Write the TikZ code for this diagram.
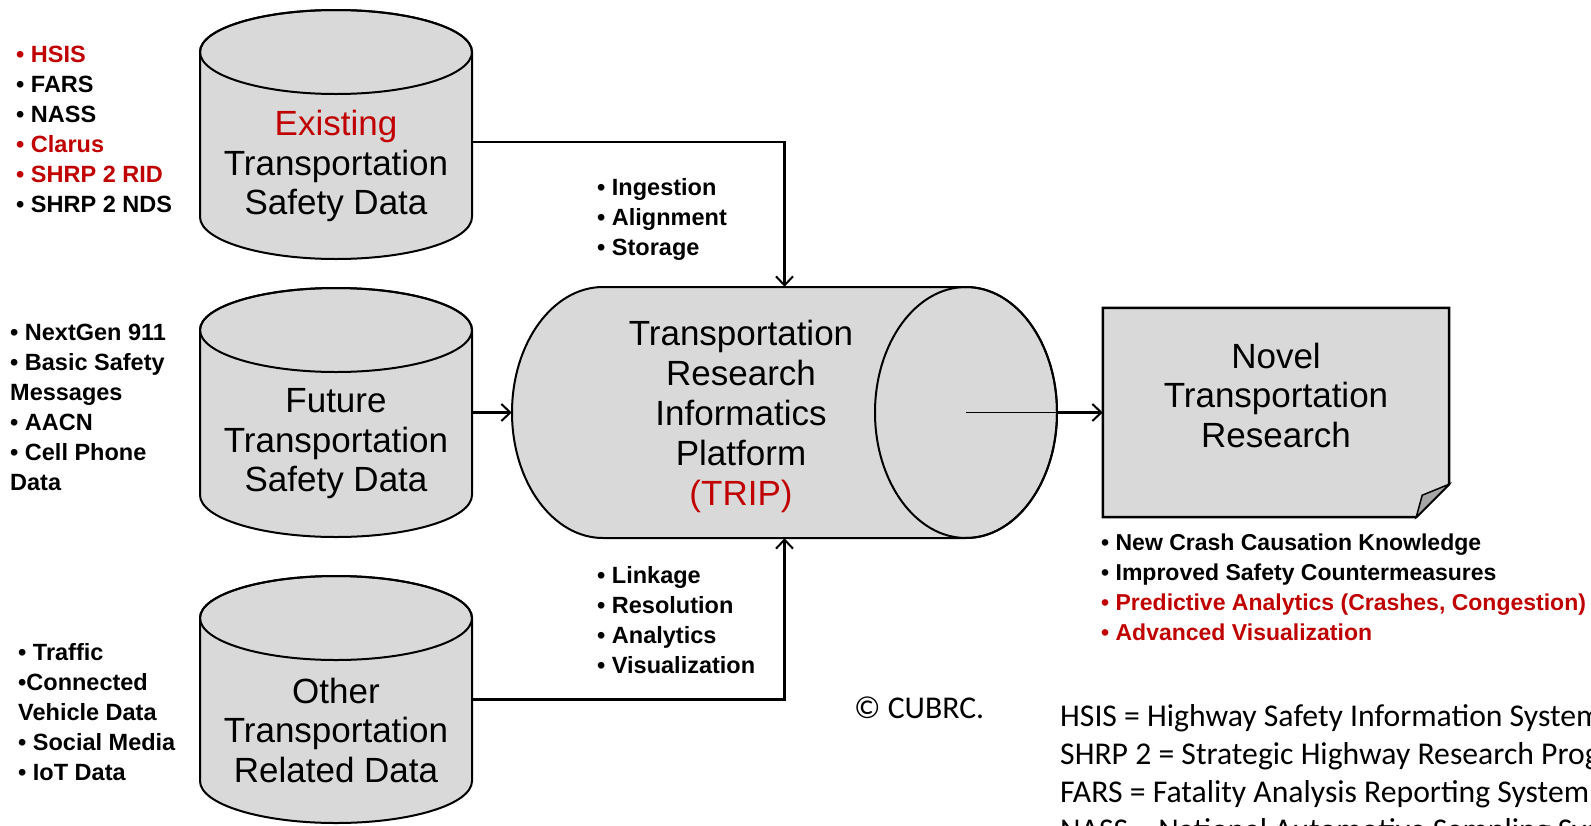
\documentclass[tikz,border=0pt]{standalone}
\usepackage{fontspec}
\setmainfont{Liberation Sans}
\newfontfamily\calib{Carlito}
\usetikzlibrary{arrows.meta,calc}
\definecolor{dred}{HTML}{C00000}
\definecolor{cylgray}{HTML}{D9D9D9}
\definecolor{foldgray}{HTML}{A6A6A6}
\newcommand\vcyl[3]{%
  \path[shapeline] ({#1-136},#2) -- ({#1-136},#3) arc[start angle=180,end angle=0,x radius=136,y radius=42] -- ({#1+136},#2) arc[start angle=0,end angle=-180,x radius=136,y radius=42] -- cycle;
  \draw[line width=2pt] (#1,#2) ellipse[x radius=136, y radius=42];
}
\begin{document}
\begin{tikzpicture}[x=1pt,y=-1pt,
  shapeline/.style={draw=black, line width=2pt, fill=cylgray},
  conn/.style={line width=2.6pt, -{Straight Barb[length=9pt,width=17pt,line width=2pt]}},
  bigtxt/.style={font=\fontsize{35}{39.5}\selectfont, align=center, inner sep=0pt},
  lst/.style={font=\fontsize{23.5}{30}\selectfont\bfseries, align=left, anchor=west, inner sep=0pt},
  box/.style={draw=none, inner sep=0pt, rectangle},
  legend/.style={font=\calib\fontsize{31.7}{38}\selectfont, align=left, anchor=west, inner sep=0pt}
]
\useasboundingbox (0,0) rectangle (1591,825);
\clip (0,0) rectangle (1591,825);

% cylinders (drawings)
\vcyl{336}{52}{217}
\vcyl{336}{330}{495}
\vcyl{336}{618}{781}

\path[shapeline] (603,287) -- (966,287) arc[start angle=-90,end angle=90,x radius=91,y radius=125.5] -- (603,538) arc[start angle=90,end angle=270,x radius=91,y radius=125.5] -- cycle;
\draw[line width=2pt] (966,412.5) ellipse[x radius=91,y radius=125.5];

% named nodes spanning the shapes
\node[box, minimum width=272pt, minimum height=249pt] (ex) at (336,134.5) {};
\node[box, minimum width=272pt, minimum height=249pt] (fu) at (336,412.5) {};
\node[box, minimum width=272pt, minimum height=246pt] (ot) at (336,699.5) {};
\node[box, minimum width=545pt, minimum height=251pt] (trip) at (784.5,412.5) {};
\node[box, minimum width=346pt, minimum height=209pt] (novel) at (1276,412.5) {};
\coordinate (tripc) at (966,412.5);

% novel box with folded corner
\path[shapeline, line width=2.5pt] (novel.north west) -- (novel.north east) -- ([yshift=33pt]novel.south east) -- ([xshift=-33pt]novel.south east) -- (novel.south west) -- cycle;
\path[fill=foldgray, draw=black, line width=1.5pt] ([xshift=-33pt]novel.south east) -- ([xshift=-27pt,yshift=22pt]novel.south east) -- ([yshift=33pt]novel.south east) -- cycle;

% texts
\node[bigtxt] (extxt) at (336,166) {\textcolor{dred}{Existing}\\Transportation\\Safety Data};
\node[bigtxt] (futxt) at (336,444) {Future\\Transportation\\Safety Data};
\node[bigtxt] (ottxt) at (336,730) {Other\\Transportation\\Related Data};
\node[bigtxt, font=\fontsize{35}{40}\selectfont] (triptxt) at (741,416) {Transportation\\Research\\Informatics\\Platform\\\textcolor{dred}{(TRIP)}};
\node[bigtxt] (noveltxt) at (1276,395) {Novel\\Transportation\\Research};

% connectors
\draw[conn] ([yshift=-7.5pt]ex.east) -| (trip.north);
\draw[conn] (fu.east) -- (trip.west);
\draw[conn] (ot.east) -| (trip.south);
\draw[line width=1.8pt] (tripc) -- (trip.east |- tripc);
\draw[conn] (trip.east |- tripc) -- (novel.west);

% lists
\node[lst] (exlist) at (16,129) {\textcolor{dred}{• HSIS}\\• FARS\\• NASS\\\textcolor{dred}{• Clarus}\\\textcolor{dred}{• SHRP 2 RID}\\• SHRP 2 NDS};
\node[lst] (fulist) at (10,407) {• NextGen 911\\• Basic Safety\\Messages\\• AACN\\• Cell Phone\\Data};
\node[lst] (otlist) at (18,712) {• Traffic\\•Connected\\Vehicle Data\\• Social Media\\• IoT Data};
\node[lst] (inglist) at (597,219) {• Ingestion\\• Alignment\\• Storage};
\node[lst] (linklist) at (597,620) {• Linkage\\• Resolution\\• Analytics\\• Visualization};
\node[lst, font=\fontsize{23}{30}\selectfont\bfseries] (outlist) at (1101,587) {• New Crash Causation Knowledge\\• Improved Safety Countermeasures\\\textcolor{dred}{• Predictive Analytics (Crashes, Congestion)}\\\textcolor{dred}{• Advanced Visualization}};

% legend and copyright
\node[legend] (copy) at (854,708) {© CUBRC.};
\node[legend] (leg) at (1060,775) {HSIS = Highway Safety Information System\\SHRP 2 = Strategic Highway Research Program\\FARS = Fatality Analysis Reporting System\\NASS = National Automotive Sampling System};
\end{tikzpicture}
\end{document}
